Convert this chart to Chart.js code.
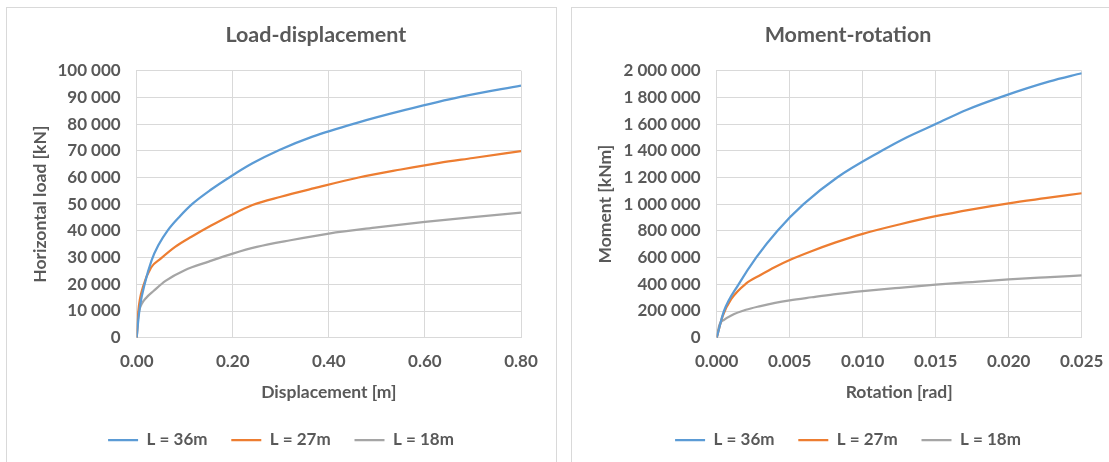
<!DOCTYPE html>
<html><head><meta charset="utf-8">
<script src="https://cdn.jsdelivr.net/npm/chart.js@4.4.0/dist/chart.umd.min.js"></script>
<style>
html,body{margin:0;padding:0;background:#fff;width:1109px;height:462px;overflow:hidden;position:relative}
.box{position:absolute;top:7px;height:470px;border:1px solid #d9d9d9;box-sizing:border-box;background:#fff}
#boxL{left:6px;width:551px}
#boxR{left:571px;width:555px}
canvas{position:absolute;top:8px}
#cL{left:7px}
#cR{left:572px}
</style></head><body>
<div class="box" id="boxL"></div><div class="box" id="boxR"></div>
<canvas id="cL" width="548" height="454"></canvas>
<canvas id="cR" width="552" height="454"></canvas>
<script>
// ---------- Data ----------
const seriesNames = ['L = 36m', 'L = 27m', 'L = 18m'];

// Load-displacement
const ldDisp36 = [0, 0.003, 0.007, 0.017, 0.031, 0.045, 0.065, 0.09, 0.117, 0.155, 0.195, 0.241, 0.297, 0.366, 0.455, 0.559, 0.676, 0.8];
const ldLoad36 = [0, 6000, 12000, 20400, 29000, 34600, 40300, 45500, 50300, 55500, 60300, 65300, 70300, 75300, 80300, 85300, 90300, 94400];
const ldDisp27 = [0, 0.0035, 0.013, 0.03, 0.05, 0.08, 0.114, 0.155, 0.195, 0.241, 0.3, 0.37, 0.462, 0.55, 0.63, 0.7, 0.8];
const ldLoad27 = [0, 10000, 19000, 26300, 29600, 34000, 37800, 42000, 45800, 49700, 52800, 56000, 60000, 63000, 65500, 67300, 69900];
const ldDisp18 = [0, 0.002, 0.005, 0.01, 0.02, 0.035, 0.06, 0.1, 0.15, 0.2, 0.25, 0.32, 0.4, 0.5, 0.6, 0.7, 0.8];
const ldLoad18 = [0, 6000, 10000, 12500, 15000, 17500, 21300, 25300, 28500, 31500, 34000, 36500, 39000, 41300, 43400, 45200, 46800];
const ldDispTicks = [0, 0.2, 0.4, 0.6, 0.8];
const ldLoadTicks = [0, 10000, 20000, 30000, 40000, 50000, 60000, 70000, 80000, 90000, 100000];

// Moment-rotation
const mrRot36 = [0, 0.0005, 0.0015, 0.0027, 0.00415, 0.00595, 0.00825, 0.0113, 0.013, 0.015, 0.0171, 0.0196, 0.0228, 0.025];
const mrMom36 = [0, 200000, 400000, 600000, 800000, 1000000, 1200000, 1400000, 1500000, 1600000, 1706000, 1808000, 1920000, 1981000];
const mrRot27 = [0, 0.0004, 0.001, 0.002, 0.003, 0.004, 0.005, 0.0064, 0.0081, 0.01, 0.0125, 0.015, 0.0175, 0.02, 0.0225, 0.025];
const mrMom27 = [0, 160000, 290000, 405000, 470000, 530000, 582000, 644000, 712000, 778000, 848000, 910000, 962000, 1007000, 1045000, 1082000];
const mrRot18 = [0, 0.0002, 0.0005, 0.001, 0.002, 0.003, 0.004, 0.005, 0.0065, 0.008, 0.01, 0.0125, 0.015, 0.0175, 0.02, 0.0225, 0.025];
const mrMom18 = [0, 100000, 134000, 167000, 209000, 237000, 261000, 280000, 303000, 325000, 349000, 374000, 397000, 417000, 436000, 452000, 467000];
const mrRotTicks = [0, 0.005, 0.01, 0.015, 0.02, 0.025];
const mrMomTicks = [0, 200000, 400000, 600000, 800000, 1000000, 1200000, 1400000, 1600000, 1800000, 2000000];

const colors = ['#5B9BD5', '#ED7D31', '#A5A5A5'];
const textColor = '#595959';
const gridColor = '#D9D9D9';

// ---------- Helpers ----------
Chart.defaults.font.family = 'Lato, "Open Sans", sans-serif';
Chart.defaults.font.weight = 'bold';
Chart.defaults.color = textColor;

function pts(xs, ys) { return xs.map((x, i) => ({x: x, y: ys[i]})); }
function sep(v) { return String(Math.round(v)).replace(/\B(?=(\d{3})+(?!\d))/g, ' '); }

function makeChart(id, cfg) {
  const W = document.getElementById(id).width;
  const datasets = cfg.series.map((s, i) => ({
    label: seriesNames[i],
    data: pts(s[0], s[1]),
    borderColor: colors[i],
    backgroundColor: colors[i],
    borderWidth: 2.25,
    pointRadius: 0,
    cubicInterpolationMode: 'monotone',
    fill: false
  }));
  return new Chart(document.getElementById(id), {
    type: 'line',
    data: {datasets: datasets},
    options: {
      responsive: false,
      animation: false,
      events: [],
      layout: {padding: {left: 8, right: 8, top: 0, bottom: 3.5}},
      plugins: {
        tooltip: {enabled: false},
        title: {
          display: true, text: cfg.title, fullSize: cfg.titleFull,
          color: textColor, font: {size: 21.5, weight: 'bold'},
          padding: {top: 14, bottom: 22.9}
        },
        legend: {
          position: 'bottom',
          labels: {
            usePointStyle: true, pointStyle: 'line', pointStyleWidth: 30,
            padding: 23.8, color: textColor, font: {size: 17, weight: 'bold'}
          }
        }
      },
      scales: {
        x: {
          type: 'linear', min: cfg.xTicks[0], max: cfg.xTicks[cfg.xTicks.length - 1],
          afterBuildTicks: s => { s.ticks = cfg.xTicks.map(v => ({value: v})); },
          afterFit: s => { s.height = 70; s.paddingRight = W - cfg.plotRight; },
          ticks: {callback: v => Number(v).toFixed(cfg.xDec), padding: 14, maxRotation: 0, autoSkip: false,
                  color: textColor, font: {size: 17, weight: 'bold'}},
          grid: {color: gridColor, lineWidth: 1, drawTicks: false},
          border: {color: gridColor},
          title: {display: true, text: cfg.xTitle, color: textColor, font: {size: 17.5, weight: 'bold'},
                  padding: {top: 0, bottom: 5.3}}
        },
        y: {
          type: 'linear', min: cfg.yTicks[0], max: cfg.yTicks[cfg.yTicks.length - 1],
          afterBuildTicks: s => { s.ticks = cfg.yTicks.map(v => ({value: v})); },
          afterFit: s => { s.width = cfg.plotLeft - 8; },
          ticks: {callback: v => sep(v), padding: 16, autoSkip: false,
                  color: textColor, font: {size: 17, weight: 'bold'}},
          grid: {color: gridColor, lineWidth: 1, drawTicks: false},
          border: {color: gridColor},
          title: {display: true, text: cfg.yTitle, color: textColor, font: {size: 17.5, weight: 'bold'},
                  padding: {top: 14.5, bottom: 0}}
        }
      }
    }
  });
}

makeChart('cL', {
  title: 'Load-displacement     ', titleFull: false,
  xTitle: 'Displacement [m]', yTitle: 'Horizontal load [kN]',
  xTicks: ldDispTicks, yTicks: ldLoadTicks, xDec: 2,
  plotLeft: 129.7, plotRight: 514,
  series: [[ldDisp36, ldLoad36], [ldDisp27, ldLoad27], [ldDisp18, ldLoad18]]
});
makeChart('cR', {
  title: 'Moment-rotation', titleFull: true,
  xTitle: 'Rotation [rad]', yTitle: 'Moment [kNm]',
  xTicks: mrRotTicks, yTicks: mrMomTicks, xDec: 3,
  plotLeft: 144.7, plotRight: 509.7,
  series: [[mrRot36, mrMom36], [mrRot27, mrMom27], [mrRot18, mrMom18]]
});
</script>
</body></html>
